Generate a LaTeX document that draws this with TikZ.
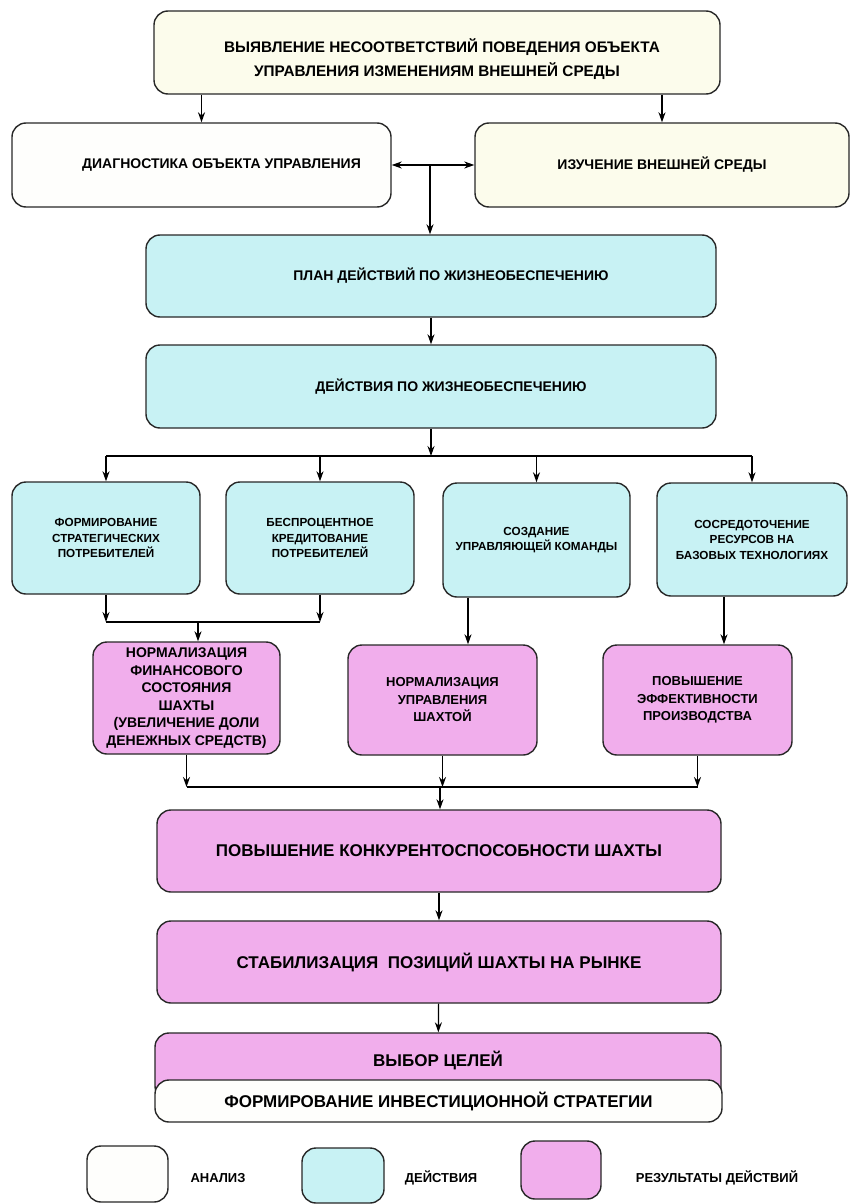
\documentclass[tikz,border=0pt]{standalone}
\usepackage{fontspec}
\setmainfont{Liberation Sans}
\usetikzlibrary{arrows.meta,calc}
\definecolor{cream}{RGB}{252,252,236}
\definecolor{paper}{RGB}{254,254,252}
\definecolor{cyanbox}{RGB}{200,242,244}
\definecolor{pinkbox}{RGB}{241,174,236}
\definecolor{edge}{RGB}{40,40,40}
\begin{document}
\begin{tikzpicture}[x=1pt,y=-1pt,
  box/.style={draw=edge, line width=1.4pt, rounded corners=14pt, align=center, inner sep=2pt},
  ana/.style={box, fill=cream},
  wht/.style={box, fill=paper},
  actbox/.style={box, fill=cyanbox},
  res/.style={box, fill=pinkbox},
  arr/.style={draw=black, line width=1.2pt, -{Stealth[length=10pt,width=7pt]}},
  darr/.style={draw=black, line width=1.2pt, {Stealth[length=10pt,width=7pt]}-{Stealth[length=10pt,width=7pt]}},
  ln/.style={draw=black, line width=1.2pt},
  ftop/.style={font=\bfseries\fontsize{15.3}{24}\selectfont},
  fmid/.style={font=\bfseries\fontsize{14}{16}\selectfont},
  fsmall/.style={font=\bfseries\fontsize{11.7}{15.5}\selectfont},
  fres/.style={font=\bfseries\fontsize{13}{17.5}\selectfont},
  fresb/.style={font=\bfseries\fontsize{14}{17.5}\selectfont},
  fbig/.style={font=\bfseries\fontsize{17}{20}\selectfont},
  fleg/.style={font=\bfseries\fontsize{13}{15}\selectfont},
]
\fill[white] (0,0) rectangle (851,1204);
\useasboundingbox (0,0) rectangle (851,1204);

% analysis
\node[ana, ftop, minimum width=566pt, minimum height=83pt] (top) at (437,52.5)
  {\rule{0pt}{28pt}\hspace*{10pt}ВЫЯВЛЕНИЕ НЕСООТВЕТСТВИЙ ПОВЕДЕНИЯ ОБЪЕКТА\\УПРАВЛЕНИЯ ИЗМЕНЕНИЯМ ВНЕШНЕЙ СРЕДЫ};
\node[wht, fmid, minimum width=379pt, minimum height=84pt] (diag) at (201.5,165)
  {\hspace*{40pt}ДИАГНОСТИКА ОБЪЕКТА УПРАВЛЕНИЯ};
\node[ana, fmid, minimum width=374pt, minimum height=84pt] (env) at (662,165)
  {ИЗУЧЕНИЕ ВНЕШНЕЙ СРЕДЫ};

% actions
\node[actbox, fmid, minimum width=570pt, minimum height=82pt] (plan) at (431,276)
  {\hspace*{40pt}ПЛАН ДЕЙСТВИЙ ПО ЖИЗНЕОБЕСПЕЧЕНИЮ};
\node[actbox, fmid, minimum width=570pt, minimum height=83pt] (act) at (431,386.5)
  {\hspace*{40pt}ДЕЙСТВИЯ ПО ЖИЗНЕОБЕСПЕЧЕНИЮ};

\node[actbox, fsmall, minimum width=188pt, minimum height=112pt] (a1) at (106,538)
  {ФОРМИРОВАНИЕ\\СТРАТЕГИЧЕСКИХ\\ПОТРЕБИТЕЛЕЙ};
\node[actbox, fsmall, minimum width=188pt, minimum height=112pt] (a2) at (320,538)
  {БЕСПРОЦЕНТНОЕ\\КРЕДИТОВАНИЕ\\ПОТРЕБИТЕЛЕЙ};
\node[actbox, fsmall, minimum width=187pt, minimum height=114pt] (a3) at (536.5,540)
  {СОЗДАНИЕ\\УПРАВЛЯЮЩЕЙ КОМАНДЫ};
\node[actbox, fsmall, minimum width=190pt, minimum height=113pt] (a4) at (752,539.5)
  {СОСРЕДОТОЧЕНИЕ\\РЕСУРСОВ НА\\БАЗОВЫХ ТЕХНОЛОГИЯХ};

% results
\node[res, fresb, minimum width=187pt, minimum height=112pt] (p1) at (186.5,698)
  {НОРМАЛИЗАЦИЯ\\ФИНАНСОВОГО\\СОСТОЯНИЯ\\ШАХТЫ\\(УВЕЛИЧЕНИЕ ДОЛИ\\ДЕНЕЖНЫХ СРЕДСТВ)};
\node[res, fres, minimum width=189pt, minimum height=110pt] (p2) at (442.5,700)
  {НОРМАЛИЗАЦИЯ\\УПРАВЛЕНИЯ\\ШАХТОЙ};
\node[res, fres, minimum width=189pt, minimum height=110pt] (p3) at (697.5,700)
  {ПОВЫШЕНИЕ\\ЭФФЕКТИВНОСТИ\\ПРОИЗВОДСТВА};

\node[res, fbig, minimum width=564pt, minimum height=82pt] (r1) at (439,851)
  {ПОВЫШЕНИЕ КОНКУРЕНТОСПОСОБНОСТИ ШАХТЫ};
\node[res, fbig, minimum width=564pt, minimum height=82pt] (r2) at (439,962)
  {СТАБИЛИЗАЦИЯ \ ПОЗИЦИЙ ШАХТЫ НА РЫНКЕ};
\node[res, fbig, minimum width=566pt, minimum height=67pt, text height=12pt, text depth=13pt] (goal) at (438,1066.5)
  {ВЫБОР ЦЕЛЕЙ};
\node[wht, fbig, minimum width=567pt, minimum height=42pt] (strat) at (438.5,1101)
  {ФОРМИРОВАНИЕ ИНВЕСТИЦИОННОЙ СТРАТЕГИИ};

% legend
\node[wht, minimum width=81pt, minimum height=56pt] (l1) at (127.5,1174) {};
\node[actbox, minimum width=82pt, minimum height=55pt] (l2) at (343,1175.5) {};
\node[res, minimum width=80pt, minimum height=58pt] (l3) at (561,1170) {};
\node[fleg] (t1) at (218,1178) {АНАЛИЗ};
\node[fleg] (t2) at (441,1178) {ДЕЙСТВИЯ};
\node[fleg] (t3) at (717,1178) {РЕЗУЛЬТАТЫ ДЕЙСТВИЙ};

% connectors
\draw[arr] (top.south -| diag.north) -- (diag.north);
\draw[arr] (top.south -| env.north) -- (env.north);
\draw[darr] (diag.east) -- (env.west);
\coordinate (j1) at (430,165);
\draw[arr] (j1) -- (j1 |- plan.north);
\draw[arr] (plan) -- (act);
\coordinate (j2) at (431,456);
\draw[arr] (act.south) -- (j2);
\draw[ln] (j2 -| a1.north) -- (j2 -| a4.north);
\foreach \n in {a1,a2,a3,a4} { \draw[arr] (j2 -| \n.north) -- (\n.north); }

\coordinate (j3) at (198,622);
\draw[arr] (a1.south) -- (a1.south |- j3);
\draw[arr] (a2.south) -- (a2.south |- j3);
\draw[ln] (a1.south |- j3) -- (a2.south |- j3);
\draw[arr] (j3) -- (j3 |- p1.north);
\coordinate (c3) at (468,600);
\draw[arr] (a3.south -| c3) -- (p2.north -| c3);
\coordinate (c4) at (724,600);
\draw[arr] (a4.south -| c4) -- (p3.north -| c4);

\coordinate (j4) at (440,787);
\draw[arr] (p1.south) -- (p1.south |- j4);
\draw[arr] (p2.south) -- (p2.south |- j4);
\draw[arr] (p3.south) -- (p3.south |- j4);
\draw[ln] (p1.south |- j4) -- (p3.south |- j4);
\draw[arr] (j4) -- (j4 |- r1.north);
\draw[arr] (r1) -- (r2);
\draw[arr] (r2) -- (goal);
\end{tikzpicture}
\end{document}
